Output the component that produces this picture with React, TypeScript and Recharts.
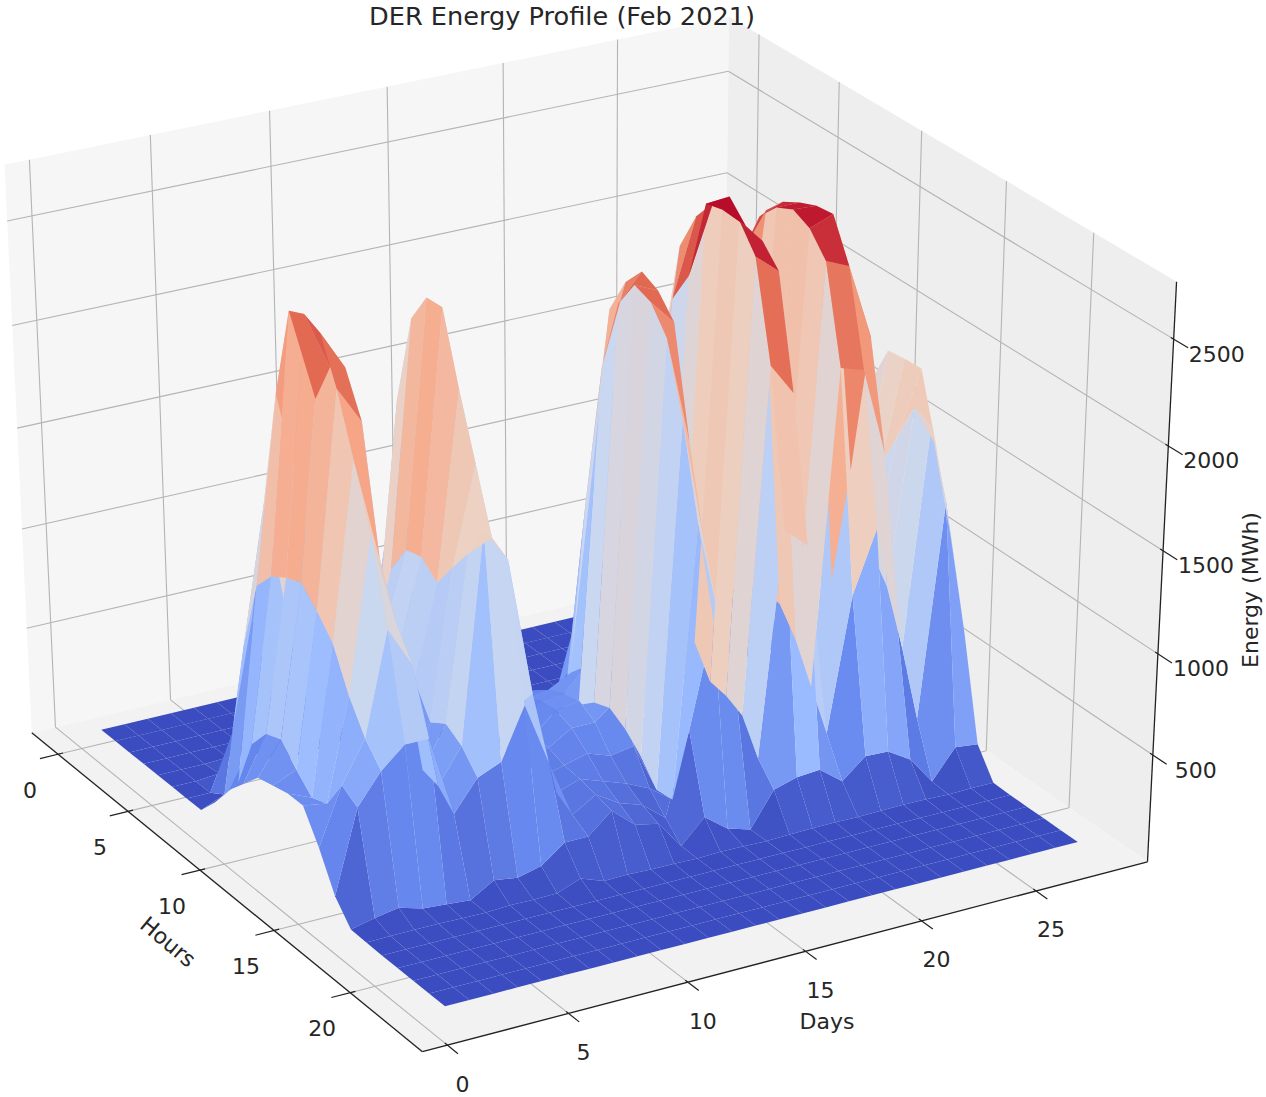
import { Scatter, ScatterChart, XAxis, YAxis } from 'recharts'

const title = 'DER Energy Profile (Feb 2021)'
const hourTicks = [0, 5, 10, 15, 20]
const dayTicks = [0, 5, 10, 15, 20, 25]
const energyTicks = [500, 1000, 1500, 2000, 2500]

// energy per hour (0-23), one row per day of the month
const energyByDay = [
  [30, 30, 30, 30, 30, 30, 30, 30, 130, 250, 340, 430, 450, 470, 470, 320, 140, 35, 32, 30, 30, 30, 30, 30],
  [30, 30, 30, 30, 30, 30, 30, 80, 200, 450, 560, 590, 500, 420, 450, 600, 550, 63, 34, 30, 30, 30, 30, 30],
  [30, 30, 30, 30, 30, 40, 300, 800, 1150, 1250, 1300, 1330, 1250, 1150, 950, 800, 700, 83, 35, 30, 30, 30, 30, 30],
  [30, 30, 30, 30, 35, 260, 860, 1470, 2050, 2490, 2525, 2490, 2280, 2000, 1700, 1300, 800, 49, 34, 30, 30, 30, 30, 30],
  [30, 30, 30, 30, 35, 60, 300, 800, 1500, 2050, 2250, 2300, 2100, 1500, 1250, 1100, 800, 40, 32, 30, 30, 30, 30, 30],
  [30, 30, 30, 30, 30, 32, 120, 250, 350, 420, 450, 433, 400, 330, 500, 480, 400, 30, 30, 30, 30, 30, 30, 30],
  [30, 30, 30, 30, 30, 40, 150, 400, 700, 880, 940, 900, 800, 650, 700, 650, 550, 100, 36, 30, 30, 30, 30, 30],
  [30, 30, 30, 30, 30, 50, 180, 450, 800, 1150, 1300, 1320, 1250, 1380, 1500, 1668, 600, 83, 34, 30, 30, 30, 30, 30],
  [30, 30, 30, 30, 35, 60, 500, 1117, 1893, 2330, 2478, 2483, 2150, 1850, 1550, 1500, 850, 112, 36, 30, 30, 30, 30, 30],
  [30, 30, 30, 30, 30, 32, 50, 120, 220, 300, 320, 350, 380, 500, 700, 820, 540, 200, 80, 30, 30, 30, 30, 30],
  [30, 30, 30, 30, 30, 30, 40, 100, 200, 260, 300, 320, 340, 340, 320, 300, 250, 200, 38, 30, 30, 30, 30, 30],
  [30, 30, 30, 30, 30, 30, 40, 120, 230, 300, 340, 360, 380, 380, 350, 340, 320, 300, 40, 30, 30, 30, 30, 30],
  [30, 30, 30, 30, 30, 30, 45, 130, 250, 360, 430, 470, 480, 450, 380, 300, 250, 200, 36, 30, 30, 30, 30, 30],
  [30, 30, 30, 30, 30, 30, 45, 140, 300, 380, 440, 480, 500, 450, 340, 260, 210, 176, 34, 30, 30, 30, 30, 30],
  [30, 30, 30, 30, 30, 30, 36, 50, 170, 300, 500, 590, 600, 540, 360, 205, 117, 34, 31, 30, 30, 30, 30, 30],
  [30, 30, 30, 30, 30, 30, 40, 80, 150, 250, 320, 350, 300, 220, 110, 120, 527, 150, 35, 30, 30, 30, 30, 30],
  [30, 30, 30, 30, 30, 35, 100, 300, 1200, 1900, 2250, 2390, 2360, 2240, 1900, 1460, 1030, 63, 33, 30, 30, 30, 30, 30],
  [30, 30, 30, 30, 30, 35, 500, 1300, 2100, 2280, 2380, 2340, 2240, 1717, 1268, 937, 654, 29, 30, 30, 30, 30, 30, 30],
  [30, 30, 30, 30, 30, 30, 40, 70, 120, 180, 250, 360, 654, 512, 498, 458, 300, 200, 34, 30, 30, 30, 30, 30],
  [30, 30, 30, 30, 30, 40, 250, 900, 1500, 2150, 2310, 2700, 2720, 2720, 2600, 2136, 1400, 234, 36, 30, 30, 30, 30, 30],
  [30, 30, 30, 30, 30, 150, 900, 1785, 2330, 2520, 2630, 2710, 2620, 2600, 2507, 1980, 1300, 244, 37, 30, 30, 30, 30, 30],
  [30, 30, 30, 30, 30, 40, 120, 250, 400, 600, 720, 800, 830, 820, 700, 520, 340, 156, 34, 30, 30, 30, 30, 30],
  [30, 30, 30, 30, 30, 60, 500, 1200, 1800, 2300, 2520, 2610, 2650, 2610, 2505, 2050, 1000, 254, 36, 30, 30, 30, 30, 30],
  [30, 30, 30, 30, 30, 50, 300, 1000, 1800, 2477, 2565, 2610, 2643, 2653, 2458, 2015, 1300, 249, 38, 30, 30, 30, 30, 30],
  [30, 30, 30, 30, 30, 35, 60, 150, 300, 500, 650, 750, 800, 1400, 2100, 1590, 800, 180, 36, 30, 30, 30, 30, 30],
  [30, 30, 30, 30, 30, 32, 50, 150, 400, 650, 850, 950, 960, 970, 850, 600, 300, 39, 31, 30, 30, 30, 30, 30],
  [30, 30, 30, 30, 30, 35, 70, 200, 500, 800, 1050, 1200, 1300, 1510, 1710, 1670, 1350, 185, 34, 30, 30, 30, 30, 30],
  [30, 30, 30, 30, 30, 40, 150, 500, 900, 1300, 1600, 1804, 1814, 1819, 1492, 1107, 677, 171, 33, 30, 30, 30, 30, 30],
]

const coolwarm = ['#3b4cc0', '#6788ee', '#9abbff', '#c9d7f0', '#edd1c2', '#f7a889', '#e26952', '#b40426']

const hourFrac = (h: number) => 0.082 + 0.0379 * h
const hourTickFrac = (h: number) => 0.072 + 0.0377 * h
const dayRowFrac = (i: number) => 0.056 + 0.03233 * i
const dayTickFrac = (d: number) => 0.033 + 0.0323 * d
const energyFrac = (z: number) => 0.013 + z * 0.0003515
const surfaceFrac = (z: number) => energyFrac(z + 25)
const WALL_TOP = 0.985

// view from elev 30, azim -30, camera distance 10
const project = (X: number, Y: number, Z: number) => {
  const qx = X - 0.5
  const qy = Y - 0.5
  const qz = Z - 0.5
  const rx = 0.5 * qx + 0.866 * qy
  const uy = -0.433 * qx + 0.25 * qy + 0.866 * qz
  const depth = 10 - (0.75 * qx - 0.433 * qy + 0.5 * qz)
  return { px: 581 + (8370 * rx) / depth, py: 512 - (6730 * uy) / depth, depth }
}

const mapColor = (t: number) => {
  const c = Math.min(0.9999, Math.max(0, t)) * (coolwarm.length - 1)
  const k = Math.floor(c)
  const a = coolwarm[k]
  const b = coolwarm[k + 1]
  const mix = (s: number) => {
    const p = parseInt(a.slice(s, s + 2), 16)
    const q = parseInt(b.slice(s, s + 2), 16)
    return Math.round(p + (q - p) * (c - k))
  }
  return `rgb(${mix(1)},${mix(3)},${mix(5)})`
}

type P = { px: number; py: number }

const shapeOf = (pts: P[], style: object) => {
  const px = pts.reduce((s, p) => s + p.px, 0) / pts.length
  const py = pts.reduce((s, p) => s + p.py, 0) / pts.length
  return { px, py, pts: pts.map((p) => [p.px - px, p.py - py]), ...style }
}

const seg = (a: number[], b: number[], stroke: string, width: number) =>
  shapeOf([project(a[0], a[1], a[2]), project(b[0], b[1], b[2])], { stroke, width })

const GRID = '#b4b4b4'
const AXIS = '#222222'

const panes = [
  shapeOf([project(0, 0, 0), project(0, 1, 0), project(0, 1, WALL_TOP), project(0, 0, WALL_TOP)], { fill: '#f6f6f6' }),
  shapeOf([project(0, 1, 0), project(1, 1, 0), project(1, 1, WALL_TOP), project(0, 1, WALL_TOP)], { fill: '#eeeeee' }),
  shapeOf([project(0, 0, 0), project(1, 0, 0), project(1, 1, 0), project(0, 1, 0)], { fill: '#f2f2f2' }),
]

const gridLines = [
  ...hourTicks.flatMap((h) => [
    seg([hourTickFrac(h), 0, 0], [hourTickFrac(h), 1, 0], GRID, 1.1),
    seg([hourTickFrac(h), 1, 0], [hourTickFrac(h), 1, WALL_TOP], GRID, 1.1),
  ]),
  ...dayTicks.flatMap((d) => [
    seg([0, dayTickFrac(d), 0], [1, dayTickFrac(d), 0], GRID, 1.1),
    seg([0, dayTickFrac(d), 0], [0, dayTickFrac(d), WALL_TOP], GRID, 1.1),
  ]),
  ...energyTicks.flatMap((z) => [
    seg([0, 0, energyFrac(z)], [0, 1, energyFrac(z)], GRID, 1.1),
    seg([0, 1, energyFrac(z)], [1, 1, energyFrac(z)], GRID, 1.1),
  ]),
]

const axisLines = [
  seg([0, 0, 0], [1, 0, 0], AXIS, 1.3),
  seg([1, 0, 0], [1, 1, 0], AXIS, 1.3),
  seg([1, 1, 0], [1, 1, WALL_TOP], AXIS, 1.3),
  ...hourTicks.map((h) => seg([hourTickFrac(h), 0.007, 0], [hourTickFrac(h), -0.025, 0], AXIS, 1.2)),
  ...dayTicks.map((d) => seg([0.994, dayTickFrac(d), 0], [1.025, dayTickFrac(d), 0], AXIS, 1.2)),
  ...energyTicks.map((z) => seg([0.994, 1, energyFrac(z)], [1.03, 1, energyFrac(z)], AXIS, 1.2)),
]

const tickText = (p: P, dx: number, dy: number, text: number) => ({ px: p.px + dx, py: p.py + dy, text: String(text) })

const labels = [
  ...hourTicks.map((h) => tickText(project(hourTickFrac(h), 0, 0), -28, 36, h)),
  ...dayTicks.map((d) => tickText(project(1, dayTickFrac(d), 0), 15, 39, d)),
  ...energyTicks.map((z) => tickText(project(1, 1, energyFrac(z)), 43, 15, z)),
  { px: 168, py: 942, text: 'Hours', rotate: 40 },
  { px: 827, py: 1021, text: 'Days' },
  { px: 1250, py: 590, text: 'Energy (MWh)', rotate: -90 },
  { px: 562, py: 17, text: title, size: 24, length: 386 },
]

const allValues = energyByDay.flat()
const vmin = Math.min(...allValues)
const vmax = Math.max(...allValues)

const facets = energyByDay
  .slice(0, -1)
  .flatMap((row, i) =>
    row.slice(0, -1).map((_, h) => {
      const corners = [
        [h, i],
        [h + 1, i],
        [h + 1, i + 1],
        [h, i + 1],
      ]
      const zs = corners.map(([a, b]) => energyByDay[b][a])
      const mean = zs.reduce((s, v) => s + v, 0) / 4
      const pts = corners.map(([a, b]) => project(hourFrac(a), dayRowFrac(b), surfaceFrac(energyByDay[b][a])))
      const depth = pts.reduce((s, p) => s + p.depth, 0) / 4
      return { depth, mean, pts }
    }),
  )
  .sort((a, b) => b.depth - a.depth)
  .map((f) => shapeOf(f.pts, { fill: mapColor((f.mean - vmin) / (vmax - vmin)) }))

const Prim = (props: any) => {
  const { cx, cy, payload } = props
  if (payload.text) {
    return (
      <text
        x={cx}
        y={cy}
        textAnchor="middle"
        dominantBaseline="central"
        fontFamily="DejaVu Sans"
        fontSize={payload.size ?? 22}
        fill="#262626"
        textLength={payload.length}
        lengthAdjust={payload.length ? 'spacingAndGlyphs' : undefined}
        transform={payload.rotate ? `rotate(${payload.rotate} ${cx} ${cy})` : undefined}
      >
        {payload.text}
      </text>
    )
  }
  const points = payload.pts.map((p: number[]) => `${cx + p[0]},${cy + p[1]}`).join(' ')
  if (payload.fill) return <polygon points={points} fill={payload.fill} />
  return <polyline points={points} fill="none" stroke={payload.stroke} strokeWidth={payload.width} />
}

export default function App() {
  return (
    <div style={{ position: 'absolute', left: 0, top: 0, width: 1266, height: 1097, background: '#fff' }}>
      <ScatterChart width={1266} height={1097} margin={{ top: 0, right: 0, bottom: 0, left: 0 }} style={{ overflow: 'visible' }}>
        <XAxis type="number" dataKey="px" domain={[0, 1266]} hide />
        <YAxis type="number" dataKey="py" domain={[0, 1097]} reversed hide />
        <Scatter data={panes} shape={Prim} isAnimationActive={false} />
        <Scatter data={gridLines} shape={Prim} isAnimationActive={false} />
        <Scatter data={axisLines} shape={Prim} isAnimationActive={false} />
        <Scatter data={labels} shape={Prim} isAnimationActive={false} />
        <Scatter data={facets} shape={Prim} isAnimationActive={false} />
      </ScatterChart>
    </div>
  )
}
